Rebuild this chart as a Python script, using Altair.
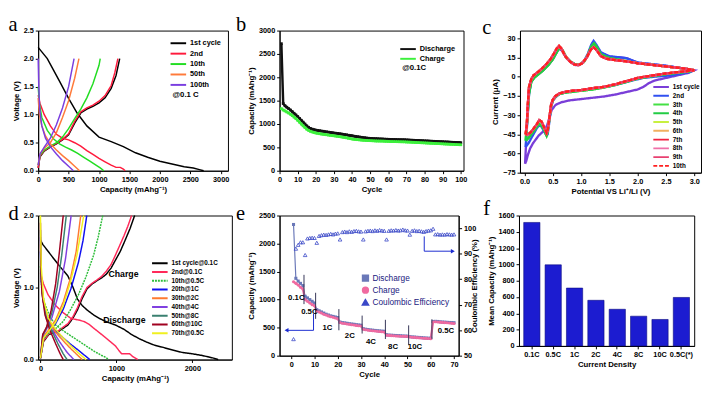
import altair as alt
import pandas as pd

FONT = "Liberation Sans"
SERIF = "Liberation Serif"

# ---------------- panel a : charge/discharge profiles @0.1C ----------------
a_names = ["1st cycle", "2nd", "10th", "50th", "100th"]
a_colors = ["#000000", "#ff1a3c", "#22dd22", "#ff7a3a", "#7a3ee0"]
a_dis_cap = [
    [0, 60, 150, 250, 350, 500, 640, 800, 1000, 1200, 1400, 1600, 1800, 2000, 2200, 2400, 2550, 2650, 2720],
    [0, 30, 100, 200, 300, 400, 500, 600, 700, 800, 900, 1000, 1100, 1200, 1280, 1350, 1400, 1430],
    [0, 20, 60, 150, 250, 350, 450, 550, 650, 750, 850, 950, 1020, 1080],
    [0, 20, 60, 120, 200, 300, 400, 500, 600, 680],
    [0, 10, 25, 60, 120, 200, 300, 400, 500, 580],
]
a_dis_v = [
    [2.2, 2.12, 2.0, 1.8, 1.6, 1.29, 1.03, 0.8, 0.6, 0.52, 0.43, 0.32, 0.24, 0.17, 0.12, 0.07, 0.05, 0.02, 0.0],
    [1.35, 1.2, 1.0, 0.8, 0.65, 0.58, 0.55, 0.5, 0.44, 0.36, 0.29, 0.22, 0.16, 0.1, 0.06, 0.06, 0.03, 0.0],
    [1.5, 1.2, 0.95, 0.72, 0.57, 0.48, 0.42, 0.37, 0.31, 0.24, 0.17, 0.1, 0.05, 0.0],
    [1.3, 1.0, 0.8, 0.62, 0.48, 0.37, 0.27, 0.18, 0.08, 0.0],
    [2.0, 1.5, 1.1, 0.8, 0.58, 0.43, 0.3, 0.18, 0.08, 0.0],
]
a_chg_cap = [
    [0, 30, 100, 200, 300, 400, 500, 600, 700, 800, 900, 1000, 1100, 1200, 1280, 1340],
    [0, 30, 100, 200, 300, 400, 500, 600, 700, 800, 900, 1000, 1100, 1200, 1260, 1310],
    [0, 30, 100, 200, 300, 400, 500, 600, 700, 800, 900, 1000, 1020],
    [0, 30, 100, 200, 300, 400, 500, 600, 670],
    [0, 30, 100, 200, 300, 400, 500, 590],
]
a_chg_v = [
    [0.05, 0.25, 0.35, 0.42, 0.48, 0.55, 0.64, 0.85, 1.03, 1.1, 1.15, 1.21, 1.3, 1.47, 1.7, 2.0],
    [0.05, 0.26, 0.36, 0.43, 0.49, 0.56, 0.66, 0.88, 1.05, 1.12, 1.17, 1.24, 1.34, 1.52, 1.75, 2.0],
    [0.1, 0.28, 0.37, 0.44, 0.5, 0.6, 0.75, 0.93, 1.1, 1.3, 1.55, 1.88, 2.0],
    [0.1, 0.3, 0.4, 0.5, 0.68, 0.95, 1.25, 1.65, 2.0],
    [0.1, 0.3, 0.42, 0.58, 0.82, 1.12, 1.5, 2.0],
]

# ---------------- panel b : cycling @0.1C ----------------
b_names = ["Discharge", "Charge"]
b_colors = ["#111111", "#3cf03c"]
b_cycle = list(range(1, 101))
b_dis = [2720, 1440, 1390, 1360, 1330, 1300, 1265, 1230, 1195, 1160,
         1120, 1080, 1040, 1000, 960, 930, 905, 890, 880, 870,
         862, 856, 850, 845, 838, 832, 826, 820, 814, 808,
         803, 798, 792, 786, 780, 774, 768, 760, 754, 748,
         740, 734, 728, 722, 716, 710, 705, 700, 696, 692,
         690, 688, 686, 684, 682, 680, 678, 676, 675, 673,
         671, 670, 668, 667, 666, 665, 664, 663, 662, 660,
         658, 656, 654, 652, 650, 648, 646, 644, 642, 640,
         638, 636, 634, 632, 630, 628, 626, 624, 622, 620,
         618, 616, 614, 612, 610, 608, 606, 605, 603, 601]
b_chg = [1330, 1300, 1280, 1258, 1235, 1210, 1180, 1148, 1115, 1080,
         1040, 1000, 962, 925, 890, 865, 845, 830, 818, 808,
         800, 793, 787, 781, 775, 770, 764, 758, 753, 748,
         742, 736, 730, 724, 718, 712, 704, 696, 688, 680,
         674, 669, 665, 661, 657, 654, 651, 648, 646, 644,
         642, 640, 638, 637, 636, 635, 634, 632, 630, 628,
         626, 625, 624, 623, 622, 621, 620, 619, 618, 616,
         614, 612, 610, 608, 606, 604, 602, 600, 598, 596,
         594, 592, 590, 588, 586, 584, 582, 580, 578, 576,
         574, 572, 570, 568, 566, 564, 562, 560, 558, 556]

# ---------------- panel c : cyclic voltammetry ----------------
c_names = ["1st cycle", "2nd", "3th", "4th", "5th", "6th", "7th", "8th", "9th", "10th"]
c_colors = ["#7a3ed8", "#3050f0", "#44e044", "#22cc44", "#c8f040", "#f0b060",
            "#f02040", "#f070a8", "#e84070", "#ff2020"]
c_dashes = [[1, 0]] * 9 + [[4, 2]]
c1_e = [0.01, 0.03, 0.05, 0.08, 0.12, 0.18, 0.25, 0.33, 0.42, 0.50, 0.57, 0.61, 0.66, 0.74, 0.82, 0.90,
        0.97, 1.05, 1.12, 1.18, 1.22, 1.27, 1.35, 1.50, 1.70, 1.80, 2.00, 2.20, 2.50, 2.80, 3.00,
        2.90, 2.70, 2.50, 2.30, 2.20, 2.10, 2.00, 1.80, 1.60, 1.40, 1.20, 1.00, 0.80, 0.65, 0.55,
        0.48, 0.44, 0.40, 0.35, 0.30, 0.25, 0.20, 0.15, 0.10, 0.06, 0.03, 0.01]
c1_i = [-68, -50, -30, -12, -3, 0, 2, 5, 9, 13.5, 19, 22, 20.5, 14.5, 11, 9,
        9, 11.5, 17, 24, 27, 24, 18.5, 15.5, 15, 14.5, 11, 10, 8.5, 6.5, 5,
        3, 1, -1, -3, -5, -8, -10, -12, -14, -15.5, -16.5, -17.5, -18.5, -20, -22,
        -26, -32, -38, -42, -44, -46, -49, -52, -56, -61, -66, -68]
c2_e = [0.02, 0.05, 0.08, 0.12, 0.18, 0.25, 0.33, 0.42, 0.50, 0.57, 0.61, 0.66, 0.74, 0.82, 0.90,
        0.97, 1.05, 1.12, 1.18, 1.22, 1.27, 1.35, 1.50, 1.70, 1.80, 2.00, 2.20, 2.50, 2.80, 3.00,
        2.90, 2.60, 2.30, 2.10, 1.90, 1.70, 1.50, 1.30, 1.10, 0.90, 0.75, 0.62, 0.55, 0.50, 0.47,
        0.44, 0.41, 0.39, 0.35, 0.30, 0.26, 0.22, 0.17, 0.12, 0.07, 0.02]
c2_i = [-55, -35, -14, -4, 0, 2.5, 5.5, 9.5, 14, 20, 23, 21, 15, 11.5, 9.5,
        9.5, 12, 18, 25, 28, 25, 19, 16, 15, 14.5, 11, 10, 8.5, 6.5, 5,
        3.5, 1, 0, -1, -3, -5.5, -7.5, -9, -10, -11, -12, -13.5, -16, -19, -24,
        -35, -45, -46, -43, -39, -38, -40, -44, -48, -52, -55]
c3_e = [0.02, 0.05, 0.08, 0.12, 0.18, 0.25, 0.33, 0.42, 0.50, 0.58, 0.62, 0.67, 0.74, 0.82, 0.90,
        0.97, 1.05, 1.12, 1.18, 1.23, 1.28, 1.35, 1.50, 1.70, 2.00, 2.20, 2.50, 2.80, 3.00,
        2.90, 2.70, 2.50, 2.20, 2.00, 1.80, 1.60, 1.40, 1.20, 1.00, 0.85, 0.72, 0.62, 0.55, 0.50,
        0.47, 0.44, 0.41, 0.39, 0.35, 0.30, 0.26, 0.22, 0.17, 0.12, 0.07, 0.02]
c3_i = [-50, -33, -13, -4, -0.5, 2, 5, 9, 13.5, 20, 22.5, 21, 15, 11.5, 9.5,
        9.5, 11.5, 17, 23.5, 26, 23, 17.5, 14.5, 13, 10.5, 9.5, 8, 6.5, 5,
        4, 3, 2, 0, -1.5, -4, -6.5, -8.5, -10, -11, -11.8, -12.5, -13.5, -15.5, -18.5,
        -23, -33, -43, -46, -42, -38, -37, -39, -42, -45, -48, -50]
c_late_e = [0.02, 0.04, 0.06, 0.08, 0.12, 0.16, 0.22, 0.30, 0.38, 0.45, 0.52, 0.57, 0.61, 0.65, 0.72,
            0.80, 0.88, 0.95, 1.02, 1.10, 1.17, 1.22, 1.27, 1.35, 1.45, 1.60, 1.80, 2.00, 2.20, 2.40,
            2.60, 2.80, 2.95, 3.00,
            2.90, 2.70, 2.50, 2.20, 2.00, 1.80, 1.60, 1.40, 1.20, 1.00, 0.85, 0.72, 0.62, 0.55, 0.50,
            0.47, 0.44, 0.41, 0.39, 0.35, 0.30, 0.26, 0.22, 0.17, 0.12, 0.07, 0.02]
c_late_i = [-45, -38, -21, -8, -2, 1, 3, 6, 9.5, 13, 18, 22, 24, 22, 16,
            12, 9.5, 9, 10.5, 15, 21, 23, 21, 16, 14, 13, 12, 10.5, 9.5, 8.5,
            7.5, 6.5, 5.5, 5,
            4.5, 3.5, 2.5, 0.5, -1, -3.5, -6, -8, -9, -10.5, -11, -11.8, -13, -15, -18,
            -22, -32, -42, -44, -40, -35, -34, -37, -40, -43, -45, -45]
c_loops = {"1st cycle": (c1_e, c1_i), "2nd": (c2_e, c2_i), "3th": (c3_e, c3_i), "4th": (c3_e, c3_i),
           "5th": (c_late_e, c_late_i), "6th": (c_late_e, c_late_i), "7th": (c_late_e, c_late_i),
           "8th": (c_late_e, c_late_i), "9th": (c_late_e, c_late_i), "10th": (c_late_e, c_late_i)}

# ---------------- panel d : rate profiles ----------------
d_names = ["1st cycle@0.1C", "2nd@0.1C", "10th@0.5C", "20th@1C", "30th@2C",
           "40th@4C", "50th@8C", "60th@10C", "70th@0.5C"]
d_colors = ["#000000", "#ff2a5a", "#2ebd3a", "#1010f0", "#ff7a30", "#8040e0", "#3a8070", "#a00020", "#f0f020"]
d_dashes = [[1, 0], [1, 0], [2, 1], [1, 0], [1, 0], [1, 0], [1, 0], [1, 0], [1, 0]]
d_dis_cap = [
    [0, 30, 154, 250, 362, 430, 487, 550, 612, 700, 779, 880, 987, 1100, 1196, 1300, 1404, 1500, 1612, 1750, 1862, 2000, 2112, 2200, 2279, 2340],
    [0, 40, 100, 200, 300, 404, 500, 570, 640, 696, 780, 862, 930, 987, 1030, 1070, 1120, 1175, 1216, 1280],
    [0, 15, 50, 120, 200, 300, 400, 500, 600, 700, 800, 860, 900],
    [0, 10, 40, 100, 200, 300, 400, 500, 580, 650],
    [0, 10, 40, 100, 200, 300, 400, 480, 550],
    [0, 8, 30, 80, 150, 250, 350, 440],
    [0, 6, 25, 70, 140, 230, 300, 350],
    [0, 5, 20, 60, 120, 200, 260, 300],
    [0, 10, 40, 100, 200, 300, 400, 500, 600],
]
d_dis_v = [
    [1.66, 1.6, 1.43, 1.3, 1.16, 1.0, 0.84, 0.75, 0.69, 0.62, 0.57, 0.52, 0.48, 0.42, 0.35, 0.29, 0.24, 0.2, 0.17, 0.13, 0.1, 0.08, 0.06, 0.04, 0.02, 0.0],
    [1.2, 1.05, 0.9, 0.75, 0.65, 0.57, 0.55, 0.53, 0.49, 0.44, 0.37, 0.3, 0.24, 0.19, 0.13, 0.08, 0.08, 0.08, 0.04, 0.0],
    [1.3, 1.0, 0.8, 0.6, 0.48, 0.4, 0.33, 0.26, 0.19, 0.12, 0.06, 0.03, 0.0],
    [1.5, 1.1, 0.8, 0.55, 0.4, 0.3, 0.21, 0.13, 0.06, 0.0],
    [1.6, 1.15, 0.8, 0.55, 0.38, 0.26, 0.15, 0.07, 0.0],
    [1.7, 1.2, 0.85, 0.58, 0.42, 0.25, 0.1, 0.0],
    [1.8, 1.25, 0.9, 0.6, 0.42, 0.22, 0.08, 0.0],
    [1.9, 1.3, 0.92, 0.62, 0.42, 0.22, 0.08, 0.0],
    [2.0, 1.3, 0.85, 0.58, 0.42, 0.3, 0.19, 0.09, 0.0],
]
d_chg_cap = [
    [0, 40, 112, 237, 362, 430, 487, 550, 612, 680, 737, 800, 862, 930, 987, 1050, 1112, 1180, 1240],
    [0, 40, 112, 237, 362, 430, 487, 550, 612, 680, 737, 800, 862, 930, 987, 1050, 1100, 1150, 1200],
    [0, 40, 100, 200, 300, 400, 500, 600, 700, 760, 820],
    [0, 40, 100, 200, 300, 400, 500, 560, 610],
    [0, 40, 100, 200, 300, 400, 470, 530],
    [0, 30, 80, 150, 250, 330, 404],
    [0, 30, 80, 150, 220, 280, 340],
    [0, 30, 80, 140, 200, 250, 300],
    [0, 40, 100, 200, 300, 400, 480, 570],
]
d_chg_v = [
    [0.02, 0.25, 0.35, 0.39, 0.48, 0.58, 0.69, 0.85, 0.98, 1.05, 1.09, 1.13, 1.18, 1.27, 1.38, 1.5, 1.65, 1.82, 2.0],
    [0.02, 0.26, 0.36, 0.4, 0.5, 0.6, 0.72, 0.88, 1.0, 1.06, 1.1, 1.15, 1.22, 1.32, 1.45, 1.6, 1.72, 1.85, 2.0],
    [0.02, 0.28, 0.36, 0.43, 0.53, 0.7, 0.9, 1.15, 1.45, 1.7, 2.0],
    [0.02, 0.3, 0.38, 0.5, 0.7, 0.98, 1.35, 1.65, 2.0],
    [0.02, 0.32, 0.4, 0.55, 0.8, 1.15, 1.5, 2.0],
    [0.02, 0.33, 0.42, 0.58, 0.95, 1.4, 2.0],
    [0.02, 0.34, 0.44, 0.65, 1.0, 1.45, 2.0],
    [0.02, 0.35, 0.45, 0.68, 1.05, 1.5, 2.0],
    [0.02, 0.3, 0.38, 0.52, 0.75, 1.1, 1.45, 2.0],
]
d_notes = ["Charge", "Discharge"]
d_note_cap = [1093, 1105]
d_note_v = [1.19, 0.55]

# ---------------- panel e : rate capability ----------------
e_names = ["Discharge", "Charge", "Coulombic Efficiency"]
e_colors = ["#6a78b8", "#f06aa0", "#3a48c8"]
e_shapes = ["square", "circle", "triangle-up"]
e_cycle = list(range(1, 71))
e_dis = [2340, 1380, 1330, 1290, 1250, 1060, 1030, 1000, 970, 940,
         820, 800, 780, 760, 740, 725, 710, 700, 690, 680,
         600, 590, 585, 578, 570, 565, 560, 553, 548, 543,
         480, 472, 466, 460, 455, 450, 446, 442, 438, 435,
         372, 368, 365, 362, 360, 358, 355, 352, 350, 348,
         340, 335, 332, 328, 325, 322, 318, 315, 312, 310,
         610, 612, 610, 605, 600, 598, 595, 592, 590, 588]
e_chg = [1320, 1290, 1260, 1220, 1190, 1000, 970, 940, 910, 890,
         800, 780, 760, 740, 725, 710, 695, 685, 672, 660,
         590, 580, 574, 566, 560, 553, 547, 540, 535, 530,
         470, 462, 456, 450, 445, 440, 435, 430, 426, 423,
         365, 362, 358, 355, 352, 350, 348, 346, 345, 343,
         335, 330, 326, 322, 318, 315, 312, 309, 306, 304,
         600, 604, 602, 598, 594, 590, 586, 582, 578, 575]
e_ce = [56.5, 92, 93.5, 94.5, 94.5, 89.5, 96, 96.2, 96.3, 96.2,
        94.3, 97, 97.3, 97.5, 97.4, 97.6, 97.8, 97.6, 97.9, 98,
        95.6, 98.5, 98.7, 98.5, 98.8, 98.6, 98.9, 99, 98.8, 98.7,
        95.6, 98.8, 99, 99.1, 98.9, 99.2, 99, 99.3, 99.1, 99,
        95.6, 99, 99.2, 99.1, 99.3, 99.1, 99.2, 99.5, 99.2, 99.1,
        97.5, 99, 99.2, 98.9, 99, 98.8, 98.6, 98.9, 99.1, 99.2,
        99.8, 97.6, 97.7, 97.5, 97.6, 97.5, 97.7, 97.6, 97.5, 97.6]
e_div_x = [5.5, 10.5, 20.5, 30.5, 40.5, 50.5, 60.5]
e_div_lo = [920, 657, 453, 395, 297, 192, 300]
e_div_hi = [1442, 1122, 831, 715, 640, 541, 650]
e_rates = ["0.1C", "0.5C", "1C", "2C", "4C", "8C", "10C", "0.5C"]
e_rate_x = [2.2, 7.8, 15.6, 25.2, 34.3, 43.8, 53.2, 66.5]
e_rate_y = [1035, 773, 494, 349, 250, 151, 151, 436]
e_arrowL_x = [9.6, 9.6, -2.0]
e_arrowL_y = [750, 452, 452]
e_arrowR_x = [57.2, 57.2, 69.5]
e_arrowR_y = [96.8, 91.0, 91.0]

# ---------------- panel f : mean capacity ----------------
f_cats = ["0.1C", "0.5C", "1C", "2C", "4C", "8C", "10C", "0.5C(*)"]
f_vals = [1515, 995, 710, 560, 450, 365, 325, 595]

# =================== build tables ===================
def profile_table(names, dcap, dv, ccap, cv, key):
    rows = []
    for k, n in enumerate(names):
        for i, (x, y) in enumerate(zip(dcap[k], dv[k])):
            rows.append({key: n, "seg": n + "|d", "i": i, "x": x, "y": y})
        for i, (x, y) in enumerate(zip(ccap[k], cv[k])):
            rows.append({key: n, "seg": n + "|c", "i": i, "x": x, "y": y})
    return pd.DataFrame(rows)


df_a = profile_table(a_names, a_dis_cap, a_dis_v, a_chg_cap, a_chg_v, "sa")
df_d = profile_table(d_names, d_dis_cap, d_dis_v, d_chg_cap, d_chg_v, "sd")
df_b = pd.DataFrame({"cycle": b_cycle * 2, "cap": b_dis + b_chg,
                     "sb": ["Discharge"] * len(b_dis) + ["Charge"] * len(b_chg)})
c_rows = []
for n in c_names:
    ee, ii = c_loops[n]
    for k, (x, y) in enumerate(zip(ee, ii)):
        c_rows.append({"sc": n, "i": k, "x": x, "y": y})
df_c = pd.DataFrame(c_rows)
df_e = pd.DataFrame({"cycle": e_cycle * 2, "cap": e_dis + e_chg,
                     "se": ["Discharge"] * len(e_dis) + ["Charge"] * len(e_chg)})
df_ce = pd.DataFrame({"cycle": e_cycle, "ce": e_ce, "se": ["Coulombic Efficiency"] * len(e_ce)})
df_div = pd.DataFrame({"cycle": e_div_x, "cap": e_div_lo, "hi": e_div_hi})
df_rate = pd.DataFrame({"cycle": e_rate_x, "cap": e_rate_y, "t": e_rates})
df_al = pd.DataFrame({"cycle": e_arrowL_x, "cap": e_arrowL_y, "i": [0, 1, 2]})
df_ar = pd.DataFrame({"cycle": e_arrowR_x, "ce": e_arrowR_y, "i": [0, 1, 2]})
df_f = pd.DataFrame({"cat": f_cats, "val": f_vals})
df_dn = pd.DataFrame({"x": d_note_cap, "y": d_note_v, "t": d_notes})


def ptitle(letter, offset=-8, dx=-4):
    return alt.TitleParams(letter, anchor="start", frame="bounds", font=SERIF, fontSize=21,
                           fontWeight="normal", offset=offset, dx=dx, color="black")


CAP_T = "Capacity (mAhg⁻¹)"
LINE_SYM = "M-1.6,0L1.6,0"
LINE_SYM_S = "M-2,0L2,0"

# ---- a ----
a_chart = alt.Chart(df_a).mark_line(strokeWidth=1.5).encode(
    x=alt.X("x:Q", scale=alt.Scale(domain=[0, 3120], nice=False),
            axis=alt.Axis(values=[0, 500, 1000, 1500, 2000, 2500, 3000], format="d", title=CAP_T)),
    y=alt.Y("y:Q", scale=alt.Scale(domain=[0, 2.5], nice=False),
            axis=alt.Axis(values=[0, 0.5, 1, 1.5, 2, 2.5], format=".1f", title="Voltage (V)")),
    color=alt.Color("sa:N", scale=alt.Scale(domain=a_names, range=a_colors),
                    legend=alt.Legend(title="@0.1 C", titleOrient="bottom", orient="none",
                                      legendX=138, legendY=7, symbolType=LINE_SYM, symbolSize=100,
                                      rowPadding=0.7, labelOffset=6)),
    detail="seg:N", order="i:Q",
).properties(width=195, height=144, title=ptitle("a"))

# ---- b ----
xb = alt.X("cycle:Q", scale=alt.Scale(domain=[0, 101.5], nice=False),
           axis=alt.Axis(values=list(range(0, 101, 10)), title="Cycle"))
yb = alt.Y("cap:Q", scale=alt.Scale(domain=[0, 3000], nice=False),
           axis=alt.Axis(values=[0, 500, 1000, 1500, 2000, 2500, 3000], format="d", title=CAP_T))
b_scale = alt.Scale(domain=b_names, range=b_colors)
b_line = alt.Chart(df_b).mark_line(strokeWidth=2.5).encode(
    x=xb, y=yb, detail="sb:N",
    color=alt.Color("sb:N", scale=b_scale,
                    legend=alt.Legend(title="@0.1C", titleOrient="bottom", orient="none",
                                      legendX=126, legendY=13, symbolType=LINE_SYM, symbolSize=100,
                                      rowPadding=0, labelOffset=6)))
b_pts = alt.Chart(df_b).mark_point(filled=True, size=8, shape="square", opacity=1).encode(
    x=xb, y=yb, color=alt.Color("sb:N", scale=b_scale))
b_chart = alt.layer(b_line, b_pts).properties(width=189, height=144, title=ptitle("b", dx=-12))

# ---- c ----
c_chart = alt.Chart(df_c).mark_line(strokeWidth=2.4).encode(
    x=alt.X("x:Q", scale=alt.Scale(domain=[-0.08, 3.12], nice=False),
            axis=alt.Axis(values=[0, 0.5, 1, 1.5, 2, 2.5, 3], format=".1f", title="Potential VS Li⁺/Li (V)")),
    y=alt.Y("y:Q", scale=alt.Scale(domain=[-75, 36], nice=False),
            axis=alt.Axis(values=[-75, -60, -45, -30, -15, 0, 15, 30], title="Current (μA)")),
    color=alt.Color("sc:N", scale=alt.Scale(domain=c_names, range=c_colors),
                    legend=alt.Legend(title=None, orient="none", legendX=140, legendY=53,
                                      symbolType=LINE_SYM_S, symbolSize=64, labelFontSize=6.5,
                                      rowPadding=0, labelOffset=7)),
    strokeDash=alt.StrokeDash("sc:N", scale=alt.Scale(domain=c_names, range=c_dashes), legend=None),
    order="i:Q",
).properties(width=186, height=146, title=ptitle("c", dx=-10))

# ---- d ----
xd_scale = alt.Scale(domain=[-30, 2520], nice=False)
yd_scale = alt.Scale(domain=[0, 2.0], nice=False)
d_lines = alt.Chart(df_d).mark_line(strokeWidth=1.5).encode(
    x=alt.X("x:Q", scale=xd_scale,
            axis=alt.Axis(values=[0, 500, 1000, 1500, 2000, 2500], format="d", title=CAP_T)),
    y=alt.Y("y:Q", scale=yd_scale,
            axis=alt.Axis(values=[0, 0.5, 1, 1.5, 2], format=".1f", title="Voltage (V)")),
    color=alt.Color("sd:N", scale=alt.Scale(domain=d_names, range=d_colors),
                    legend=alt.Legend(title=None, orient="none", legendX=120, legendY=44,
                                      symbolType=LINE_SYM_S, symbolSize=64, labelFontSize=6.5,
                                      rowPadding=0, labelOffset=7)),
    strokeDash=alt.StrokeDash("sd:N", scale=alt.Scale(domain=d_names, range=d_dashes), legend=None),
    detail="seg:N", order="i:Q",
)
d_text = alt.Chart(df_dn).mark_text(font=FONT, fontWeight="bold", fontSize=9).encode(
    x=alt.X("x:Q", scale=xd_scale), y=alt.Y("y:Q", scale=yd_scale), text="t:N")
d_chart = alt.layer(d_lines, d_text).properties(width=199, height=148, title=ptitle("d", offset=-13))

# ---- e ----
xe_scale = alt.Scale(domain=[-5, 72], nice=False)
xe = alt.X("cycle:Q", scale=xe_scale,
           axis=alt.Axis(values=[0, 10, 20, 30, 40, 50, 60, 70], title="Cycle"))
ye_scale = alt.Scale(domain=[0, 2500], nice=False)
ye = alt.Y("cap:Q", scale=ye_scale,
           axis=alt.Axis(values=[0, 500, 1000, 1500, 2000, 2500], format="d", title=CAP_T))
ce_scale = alt.Scale(domain=[50, 105], nice=False)
yce = alt.Y("ce:Q", scale=ce_scale,
            axis=alt.Axis(orient="right", values=[50, 60, 70, 80, 90, 100], titleAngle=270,
                          titleBaseline="bottom", title="Coulombic Efficiency (%)"))
e_cscale = alt.Scale(domain=e_names, range=e_colors)
e_sscale = alt.Scale(domain=e_names, range=e_shapes)
e_color = alt.Color("se:N", scale=e_cscale,
                    legend=alt.Legend(title=None, orient="none", legendX=84, legendY=60,
                                      labelFontWeight="normal", labelFontSize=8.5, labelColor="#1a1a80",
                                      symbolSize=30, rowPadding=-1.5))
e_shape = alt.Shape("se:N", scale=e_sscale)
e_dis_line = alt.Chart(df_e).transform_filter(alt.datum.se == "Discharge").mark_line(
    strokeWidth=1.2, color="#6a78b8").encode(x=xe, y=ye)
e_chg_line = alt.Chart(df_e).transform_filter(alt.datum.se == "Charge").mark_line(
    strokeWidth=2.2, color="#f06aa0").encode(x=xe, y=ye)
e_pts = alt.Chart(df_e).mark_point(filled=True, size=10, opacity=1).encode(
    x=xe, y=ye, color=e_color, shape=e_shape)
e_div = alt.Chart(df_div).mark_rule(color="#333355", strokeWidth=1).encode(x=xe, y=ye, y2="hi:Q")
e_rate = alt.Chart(df_rate).mark_text(font=FONT, fontWeight="bold", fontSize=8).encode(
    x=xe, y=ye, text="t:N")
e_al = alt.Chart(df_al).mark_line(color="#1a2ad0", strokeWidth=1).encode(x=xe, y=ye, order="i:Q")
e_alh = alt.Chart(df_al).transform_filter(alt.datum.i == 2).mark_point(
    shape="triangle-left", filled=True, size=22, color="#1a2ad0", opacity=1).encode(x=xe, y=ye)
cap_layer = alt.layer(e_dis_line, e_chg_line, e_pts, e_div, e_rate, e_al, e_alh)

e_ce_pts = alt.Chart(df_ce).mark_point(filled=False, size=14, strokeWidth=0.8, opacity=1).encode(
    x=xe, y=yce, color=e_color, shape=e_shape)
e_ar = alt.Chart(df_ar).mark_line(color="#1a2ad0", strokeWidth=1).encode(x=xe, y=yce, order="i:Q")
e_arh = alt.Chart(df_ar).transform_filter(alt.datum.i == 2).mark_point(
    shape="triangle-right", filled=True, size=22, color="#1a2ad0", opacity=1).encode(x=xe, y=yce)
ce_layer = alt.layer(e_ce_pts, e_ar, e_arh)
e_chart = alt.layer(cap_layer, ce_layer).resolve_scale(y="independent").properties(
    width=184, height=144, title=ptitle("e", offset=-13, dx=-12))

# ---- f ----
f_chart = alt.Chart(df_f).mark_bar(color="#1c1cd0", stroke="#0a0a80", strokeWidth=0.6).encode(
    x=alt.X("cat:N", sort=f_cats, scale=alt.Scale(paddingInner=0.24, paddingOuter=0.22),
            axis=alt.Axis(labelAngle=0, title="Current Density")),
    y=alt.Y("val:Q", scale=alt.Scale(domain=[0, 1600], nice=False),
            axis=alt.Axis(values=list(range(0, 1601, 200)), format="d", title="Mean Capacity (mAhg⁻¹)")),
).properties(width=180, height=134, title=ptitle("f", offset=-7, dx=-4))

RES = dict(color="independent", shape="independent", strokeDash="independent")
inner = alt.hconcat(a_chart, b_chart, spacing=5).resolve_scale(**RES)
row1 = alt.hconcat(inner, c_chart, spacing=14).resolve_scale(**RES)
row2 = alt.hconcat(d_chart, e_chart, f_chart, spacing=2).resolve_scale(**RES)

chart = alt.vconcat(row1, row2, spacing=1, padding=0).resolve_scale(**RES).configure(
    font=FONT, background="white"
).configure_view(stroke="black", strokeWidth=1).configure_axis(
    grid=False, labelFont=FONT, labelFontWeight="bold", labelFontSize=7.5, labelColor="black",
    titleFont=FONT, titleFontWeight="bold", titleFontSize=8, titleColor="black",
    domainColor="black", tickColor="black", tickSize=3, labelPadding=2, titlePadding=3,
    labelFlush=False, labelOverlap=False
).configure_legend(
    labelFont=FONT, labelFontWeight="bold", labelFontSize=7.5, labelColor="black",
    titleFont=FONT, titleFontWeight="bold", titleFontSize=8, titleColor="black",
    symbolStrokeWidth=2, padding=0, labelOffset=3, titlePadding=2
)

chart.save("out.html", embed_options={"renderer": "svg", "actions": False})
